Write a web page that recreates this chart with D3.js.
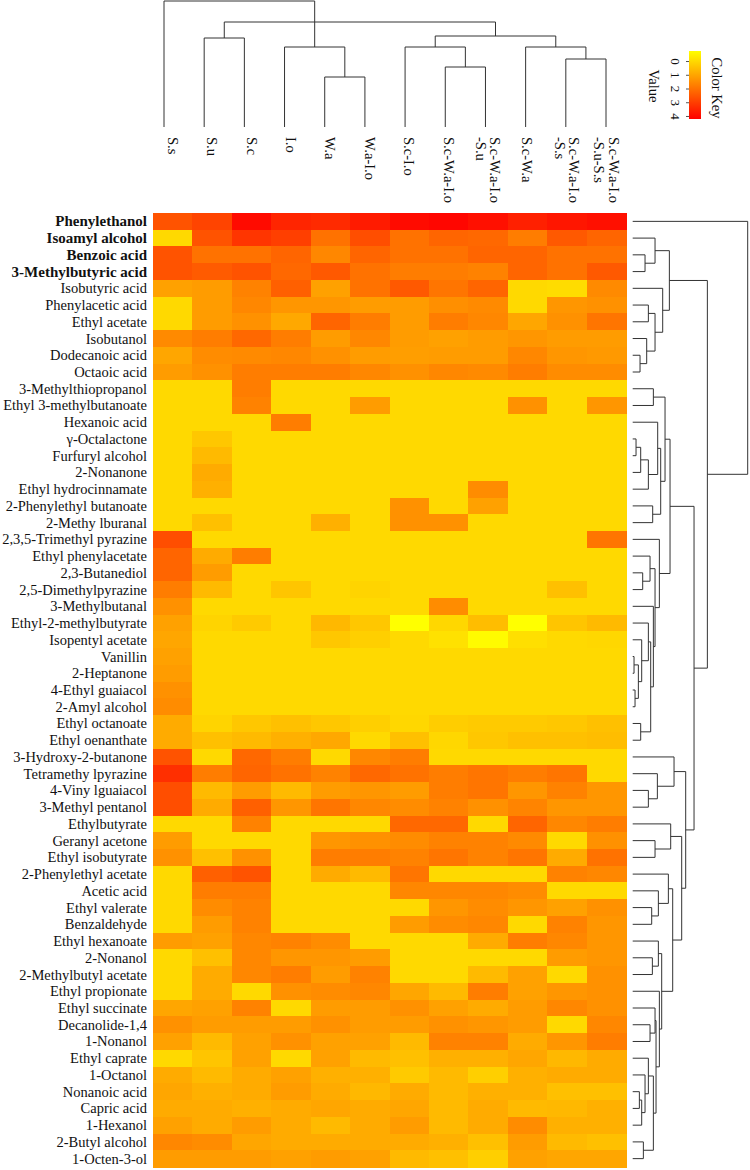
<!DOCTYPE html>
<html>
<head>
<meta charset="utf-8">
<script src="https://cdn.jsdelivr.net/npm/d3@7"></script>
<style>
  body { margin: 0; background: #fff; }
  text { font-family: "Liberation Serif", "Times New Roman", serif; fill: #111; }
</style>
</head>
<body>
<div id="chart-area"></div>
<script>
// samples (columns), in the order drawn
var columns = ["S.s", "S.u", "S.c", "I.o", "W.a", "W.a-I.o", "S.c-I.o", "S.c-W.a-I.o",
	"S.c-W.a-I.o\n-S.u", "S.c-W.a", "S.c-W.a-I.o\n-S.s", "S.c-W.a-I.o\n-S.u-S.s"];

// compounds (rows), top to bottom
var rows = ["Phenylethanol", "Isoamyl alcohol", "Benzoic acid", "3-Methylbutyric acid",
	"Isobutyric acid", "Phenylacetic acid", "Ethyl acetate", "Isobutanol", "Dodecanoic acid",
	"Octaoic acid", "3-Methylthiopropanol", "Ethyl 3-methylbutanoate", "Hexanoic acid",
	"γ-Octalactone", "Furfuryl alcohol", "2-Nonanone", "Ethyl hydrocinnamate",
	"2-Phenylethyl butanoate", "2-Methy lburanal", "2,3,5-Trimethyl pyrazine",
	"Ethyl phenylacetate", "2,3-Butanediol", "2,5-Dimethylpyrazine", "3-Methylbutanal",
	"Ethyl-2-methylbutyrate", "Isopentyl acetate", "Vanillin", "2-Heptanone",
	"4-Ethyl guaiacol", "2-Amyl alcohol", "Ethyl octanoate", "Ethyl oenanthate",
	"3-Hydroxy-2-butanone", "Tetramethy lpyrazine", "4-Viny lguaiacol", "3-Methyl pentanol",
	"Ethylbutyrate", "Geranyl acetone", "Ethyl isobutyrate", "2-Phenylethyl acetate",
	"Acetic acid", "Ethyl valerate", "Benzaldehyde", "Ethyl hexanoate", "2-Nonanol",
	"2-Methylbutyl acetate", "Ethyl propionate", "Ethyl succinate", "Decanolide-1,4",
	"1-Nonanol", "Ethyl caprate", "1-Octanol", "Nonanoic acid", "Capric acid", "1-Hexanol",
	"2-Butyl alcohol", "1-Octen-3-ol"];

// cell values, one line per row (estimated from the colours)
var values = [
	[2.6, 2.9, 4.0, 3.5, 3.4, 3.7, 4.0, 4.1, 3.9, 3.6, 3.8, 3.9],
	[0, 2.6, 3.2, 3.0, 2.0, 2.7, 2.0, 2.25, 2.2, 1.8, 2.5, 2.25],
	[2.6, 2.0, 2.0, 2.25, 1.6, 2.25, 2.0, 2.0, 2.25, 2.25, 2.0, 2.0],
	[2.6, 2.45, 2.6, 2.2, 2.5, 2.0, 1.8, 1.8, 1.7, 2.25, 2.0, 2.5],
	[1.1, 1.2, 1.7, 2.35, 1.1, 2.0, 2.5, 1.95, 2.25, 0, -0.05, 1.55],
	[0, 1.2, 1.6, 1.3, 1.3, 1.2, 1.2, 1.45, 1.55, 0, 1.3, 1.4],
	[0, 1.2, 1.4, 0.95, 2.25, 1.8, 1.2, 1.8, 1.6, 1.0, 1.4, 1.95],
	[1.55, 1.8, 2.2, 1.8, 1.2, 1.6, 1.2, 1.1, 1.2, 1.3, 1.2, 1.2],
	[1.0, 1.5, 1.55, 1.6, 1.4, 1.2, 1.15, 1.2, 1.2, 1.6, 1.3, 1.25],
	[1.2, 1.4, 1.8, 1.8, 1.8, 1.6, 1.4, 1.6, 1.55, 1.8, 1.5, 1.5],
	[0, 0, 1.8, 0, 0, 0, 0, 0, 0, 0, 0, 0],
	[0, 0, 1.7, 0, 0, 1.2, 0, 0, 0, 1.4, 0, 1.3],
	[0, 0, 0, 1.8, 0, 0, 0, 0, 0, 0, 0, 0],
	[0, 0.35, 0, 0, 0, 0, 0, 0, 0, 0, 0, 0],
	[0, 0.6, 0, 0, 0, 0, 0, 0, 0, 0, 0, 0],
	[0, 0.9, 0, 0, 0, 0, 0, 0, 0, 0, 0, 0],
	[0, 0.8, 0, 0, 0, 0, 0, 0, 1.5, 0, 0, 0],
	[0, 0, 0, 0, 0, 0, 1.4, 0, 1.1, 0, 0, 0],
	[0, 0.5, 0, 0, 0.8, 0, 1.4, 1.4, 0, 0, 0, 0],
	[2.7, 0, 0, 0, 0, 0, 0, 0, 0, 0, 0, 1.95],
	[2.25, 0.9, 1.8, 0, 0, 0, 0, 0, 0, 0, 0, 0],
	[2.25, 1.2, 0, 0, 0, 0, 0, 0, 0, 0, 0, 0],
	[1.8, 0.6, 0, 0.4, 0, 0.1, 0, 0, 0, 0, 0.5, 0],
	[1.4, 0, 0, 0, 0, 0, 0, 1.5, 0, 0, 0, 0],
	[1.1, 0.1, 0.3, 0, 0.65, 0.35, -0.73, 0.05, 0.55, -0.73, 0.4, 0.6],
	[1.0, 0, 0, 0, 0.35, 0.2, 0, -0.15, -0.65, -0.1, 0, 0.05],
	[1.1, 0, 0, 0, 0, 0, 0, 0, 0, 0, 0, 0],
	[1.2, 0, 0, 0, 0, 0, 0, 0, 0, 0, 0, 0],
	[1.4, 0, 0, 0, 0, 0, 0, 0, 0, 0, 0, 0],
	[1.5, 0, 0, 0, 0, 0, 0, 0, 0, 0, 0, 0],
	[0.9, 0.1, 0.35, 0.5, 0.35, 0.2, 0.05, 0.25, 0.3, 0.3, 0.35, 0.5],
	[0.9, 0.5, 0.6, 0.8, 0.95, 0, 0.5, 0.05, 0.35, 0.5, 0.5, 0.55],
	[2.6, 0, 2.2, 1.8, 0, 1.6, 1.8, 0, 0, 0, 0, 0],
	[3.3, 1.8, 2.25, 2.0, 1.7, 2.2, 2.0, 1.8, 1.95, 1.8, 1.95, 0],
	[2.7, 0.6, 1.2, 0.6, 1.2, 1.3, 1.2, 1.8, 1.95, 1.3, 1.7, 1.3],
	[2.7, 0.9, 2.35, 1.3, 1.95, 1.6, 1.5, 1.7, 1.4, 1.65, 1.3, 1.3],
	[0, 0, 1.7, 0, 0, 0, 2.2, 2.2, 0, 2.25, 1.6, 1.8],
	[1.2, 0, 0, 0, 1.3, 1.4, 1.5, 1.7, 1.7, 1.55, 0, 1.4],
	[1.4, 0.5, 1.4, 0, 1.8, 1.8, 1.7, 1.95, 1.7, 1.95, 0.9, 2.0],
	[0, 2.35, 2.6, 0, 0.9, 0.6, 1.95, 0, 0, 0, 1.7, 1.6],
	[0, 1.8, 1.8, 0, 0, 0, 1.6, 1.6, 1.6, 1.5, 0, 0],
	[0, 1.5, 1.7, 0, 0, 0, 0, 1.3, 1.5, 1.3, 1.1, 1.4],
	[0, 1.2, 1.7, 0, 0, 0, 1.2, 1.5, 1.6, 0, 1.7, 1.3],
	[1.2, 1.1, 1.6, 1.7, 1.5, 0, 0, 0, 0.9, 1.8, 1.6, 1.3],
	[0, 0.5, 1.6, 1.3, 1.3, 1.2, 0, 0, 0, 0, 1.2, 1.3],
	[0, 0.9, 1.6, 1.8, 1.2, 1.7, 0, 0, 0.6, 1.1, 0, 1.4],
	[0, 0.9, 0, 1.4, 1.5, 1.6, 1.0, 0.6, 1.8, 1.1, 1.3, 1.4],
	[1.0, 1.1, 1.7, 0, 1.2, 1.2, 1.4, 1.1, 0.9, 1.2, 1.6, 1.4],
	[1.4, 1.2, 1.2, 1.2, 1.4, 1.2, 1.2, 1.4, 1.3, 1.2, 0, 1.6],
	[1.1, 0.6, 1.1, 1.4, 1.1, 1.1, 0.6, 1.7, 1.7, 0.9, 1.3, 1.8],
	[0, 0.4, 1.1, 0, 1.1, 0.6, 0.5, 0.8, 0.8, 1.0, 0.65, 0.9],
	[0.9, 0.6, 0.9, 1.1, 0.8, 0.8, 0.3, 0.6, 0.2, 0.8, 0.9, 0.9],
	[1.0, 0.8, 0.9, 1.2, 0.9, 0.65, 0.9, 0.6, 0.8, 0.8, 0.5, 0.5],
	[0.9, 0.9, 0.8, 0.9, 1.0, 0.9, 1.0, 0.6, 0.9, 0.6, 0.65, 0.8],
	[1.1, 0.9, 1.2, 0.9, 0.6, 0.9, 1.2, 0.6, 0.9, 1.5, 0.8, 0.8],
	[1.6, 1.5, 1.0, 0.9, 0.9, 0.9, 0.9, 0.8, 0.5, 1.2, 0.6, 0.5],
	[1.2, 1.2, 1.2, 1.1, 1.2, 1.1, 0.6, 0.5, 0.2, 1.1, 1.0, 1.0]
];

// dendrograms: [left, right, height], numbers are leaf indexes
// the column one is drawn as two pieces, like in the figure
var colTrees = [
	[0, [3, [4, 5, 5.0], 8.0], 12.6],
	[[1, 2, 8.9], [[6, [7, 8, 6.0], 8.0], [9, [10, 11, 6.8], 8.0], 9.1], 10.5]
];

var rowTop = [[1, [2, 3, 3.7], 6.7], [4, [[5, 6, 4.7], [7, [8, 9, 2.2], 4.2], 6.7], 9.0], 11.0];
var rowMid = [
	[[10, 11, 6.2], [[12, [[[13, 14, 1.0], 15, 2.4], 16, 4.7], 7.5], [17, 18, 6.0], 8.4], 9.7],
	[19, [[20, [21, 22, 3.0], 5.2], [23, [[24, [25, [[26, 27, 0.4], [28, 29, 0.7], 1.7], 2.7], 4.7], [30, 31, 2.4], 5.4], 6.2], 6.7], 8.0],
	11.2];
var rowLow = [
	[32, [33, [34, 35, 4.7], 7.4], 12.4],
	[[36, [37, 38, 6.7], 11.4],
	 [[39, [40, [41, 42, 5.7], 7.7], 10.7],
	  [[43, [44, 45, 5.9], 7.7],
	   [46, [[47, [48, 49, 5.2], 6.7], [[50, [51, [[52, 53, 2.0], 54, 2.7], 3.7], 4.7], [55, 56, 3.2], 6.2], 7.0], 8.0],
	   8.7],
	  12.0],
	 14.7],
	15.9];
var rowTree = [0, [rowTop, [rowMid, rowLow, 18.4], 22.4], 34.5];

var keyTicks = [0, 1, 2, 3, 4];
var keyDomain = [-0.73, 4.22];

var svg = d3.select("#chart-area")
	.append("svg")
		.attr("width", 750)
		.attr("height", 1170);

var x = d3.scaleBand().domain(d3.range(columns.length)).range([153, 626]);
var y = d3.scaleBand().domain(d3.range(rows.length)).range([213, 1167]);
var color = d3.scaleLinear().domain(keyDomain).range(["#ffff00", "#ff0000"]);

// heatmap cells
var cells = [];
values.forEach(function(r, i) {
	r.forEach(function(v, j) { cells.push({ r: i, c: j, v: v }); });
});

svg.append("g")
	.selectAll("rect")
	.data(cells)
	.enter()
		.append("rect")
			.attr("x", function(d) { return x(d.c); })
			.attr("y", function(d) { return y(d.r); })
			.attr("width", x.bandwidth() + 0.5)
			.attr("height", y.bandwidth() + 0.5)
			.attr("fill", function(d) { return color(d.v); })
			.attr("shape-rendering", "crispEdges");

// row labels
svg.append("g")
	.selectAll("text")
	.data(rows)
	.enter()
		.append("text")
			.attr("x", 147)
			.attr("y", function(d, i) { return y(i) + y.bandwidth() / 2; })
			.attr("text-anchor", "end")
			.attr("dominant-baseline", "central")
			.attr("font-size", function(d, i) { return i < 4 ? "15px" : "14.5px"; })
			.attr("font-weight", function(d, i) { return i < 4 ? "bold" : "normal"; })
			.text(function(d) { return d; });

// column labels (rotated, reading downwards)
var colLab = svg.append("g")
	.selectAll("text")
	.data(columns)
	.enter()
		.append("text")
			.attr("transform", function(d, i) {
				return "translate(" + (x(i) + x.bandwidth() / 2) + ",137) rotate(90)";
			})
			.attr("font-size", "14.5px")
			.attr("dominant-baseline", "central");

colLab.each(function(d) {
	var lines = d.split("\n");
	d3.select(this).selectAll("tspan")
		.data(lines)
		.enter()
			.append("tspan")
				.attr("x", 0)
				.attr("y", function(l, k) { return (k - (lines.length - 1) / 2) * 14.5; })
				.text(function(l) { return l; });
});

// dendrograms
function walk(node, pos, hs, vertical, out) {
	if (typeof node === "number") return { p: pos(node), h: 0 };
	var a = walk(node[0], pos, hs, vertical, out),
		b = walk(node[1], pos, hs, vertical, out),
		h = node[2];
	if (vertical) {
		out.push("M" + a.p + "," + hs(a.h) + "V" + hs(h) + "H" + b.p + "V" + hs(b.h));
	} else {
		out.push("M" + hs(a.h) + "," + a.p + "H" + hs(h) + "V" + b.p + "H" + hs(b.h));
	}
	return { p: (a.p + b.p) / 2, h: h };
}

var colLeaf = d3.scalePoint().domain(d3.range(columns.length)).range([164, 606]);
var colH = d3.scaleLinear().domain([0, 12.6]).range([127, 1]);
var colPaths = [];
colTrees.forEach(function(t) { walk(t, colLeaf, colH, true, colPaths); });

var rowLeaf = function(i) { return y(i) + y.bandwidth() / 2; };
var rowH = d3.scaleLinear().domain([0, 34.5]).range([632.7, 747.7]);
var rowPaths = [];
walk(rowTree, rowLeaf, rowH, false, rowPaths);

svg.append("g")
	.selectAll("path")
	.data(colPaths.concat(rowPaths))
	.enter()
		.append("path")
			.attr("d", function(d) { return d; })
			.attr("fill", "none")
			.attr("stroke", "#333")
			.attr("stroke-width", 1);

// colour key
var defs = svg.append("defs");
var grad = defs.append("linearGradient")
	.attr("id", "keygrad")
	.attr("x1", 0).attr("y1", 0).attr("x2", 0).attr("y2", 1);
grad.append("stop").attr("offset", "0%").attr("stop-color", color(keyDomain[0]));
grad.append("stop").attr("offset", "100%").attr("stop-color", color(keyDomain[1]));

var keyY = d3.scaleLinear().domain(keyDomain).range([51, 119]);

svg.append("rect")
	.attr("x", 689)
	.attr("y", keyY(keyDomain[0]))
	.attr("width", 12)
	.attr("height", keyY(keyDomain[1]) - keyY(keyDomain[0]))
	.attr("fill", "url(#keygrad)");

var keyAxis = svg.append("g")
	.attr("transform", "translate(689,0)")
	.call(d3.axisLeft(keyY).tickValues(keyTicks).tickSize(3).tickFormat(d3.format("d")));

keyAxis.select(".domain").remove();
keyAxis.selectAll("line").attr("stroke", "#555");
keyAxis.selectAll("text")
	.attr("x", null)
	.attr("dy", null)
	.attr("transform", "translate(-14,0) rotate(90)")
	.attr("text-anchor", "middle")
	.attr("dominant-baseline", "central")
	.attr("font-family", "Liberation Serif")
	.attr("font-size", "13px")
	.attr("fill", "#111");

svg.append("text")
	.attr("transform", "translate(654,86) rotate(90)")
	.attr("text-anchor", "middle")
	.attr("dominant-baseline", "central")
	.attr("font-size", "14.5px")
	.text("Value");

svg.append("text")
	.attr("transform", "translate(717,88) rotate(90)")
	.attr("text-anchor", "middle")
	.attr("dominant-baseline", "central")
	.attr("font-size", "14.5px")
	.text("Color Key");
</script>
</body>
</html>
